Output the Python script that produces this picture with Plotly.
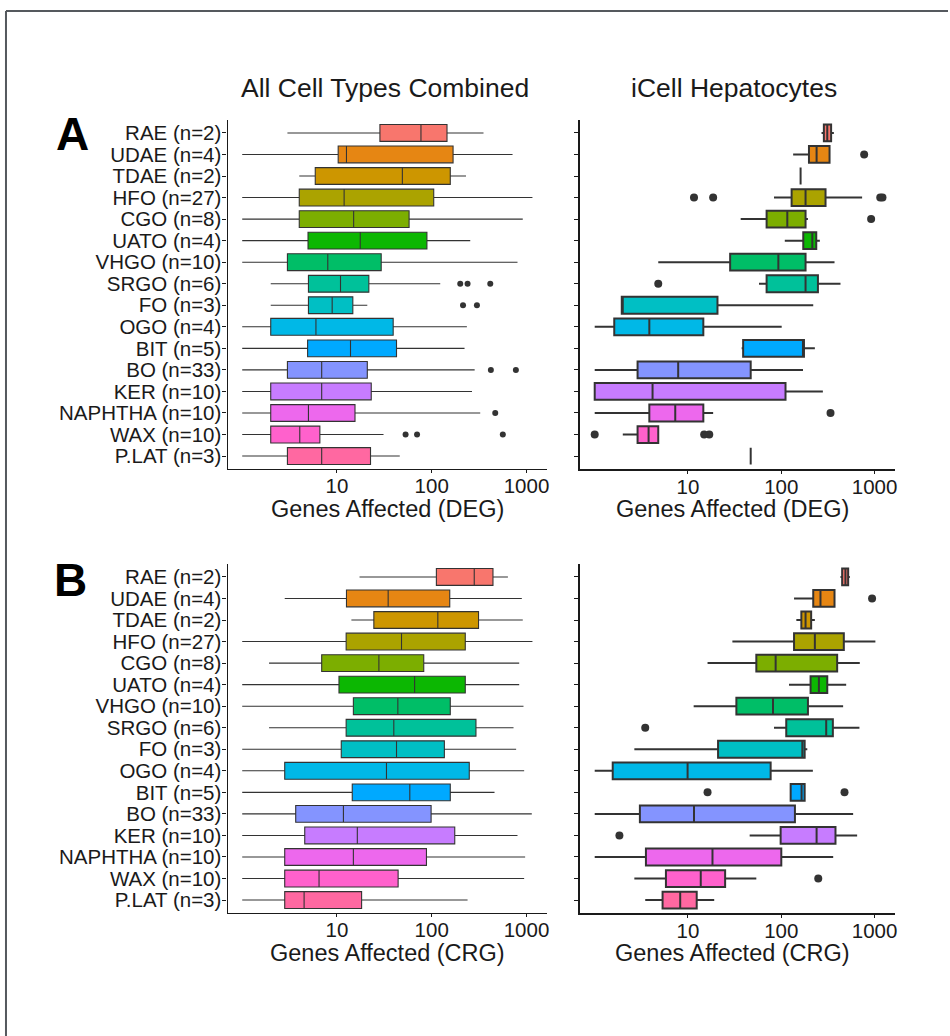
import plotly.graph_objects as go

W, H = 950, 1036

categories = ["RAE (n=2)", "UDAE (n=4)", "TDAE (n=2)", "HFO (n=27)", "CGO (n=8)",
              "UATO (n=4)", "VHGO (n=10)", "SRGO (n=6)", "FO (n=3)", "OGO (n=4)",
              "BIT (n=5)", "BO (n=33)", "KER (n=10)", "NAPHTHA (n=10)", "WAX (n=10)",
              "P.LAT (n=3)"]

colors = ["#F8766D", "#E68613", "#CD9600", "#ABA300", "#7CAE00", "#0CB702",
          "#00BE67", "#00C19A", "#00BFC4", "#00B8E7", "#00A9FF", "#8494FF",
          "#C77CFF", "#ED68ED", "#FF61CC", "#FF68A1"]

tick_vals = [10, 100, 1000]
tick_text = ["10", "100", "1000"]

# ---- DEG, all cell types combined ----
deg_all_lo = [3.0, 1, 4.0, 1, 1, 1, 1, 2.0, 2.0, 1, 1, 1, 1, 1, 1, 1]
deg_all_q1 = [28.4, 10.3, 5.9, 4.0, 4.0, 4.95, 3.0, 5.0, 5.0, 2.0, 4.9, 3.0, 2.0, 2.0, 2.0, 3.0]
deg_all_med = [77, 12.6, 49, 11.9, 15, 17.6, 8.0, 10.9, 8.9, 6.0, 13.9, 6.9, 6.9, 5.0, 4.05, 6.9]
deg_all_q3 = [145, 168, 157, 105, 57.7, 89, 29.3, 21.7, 14.7, 39.2, 42.5, 20.9, 23, 15.5, 6.6, 22.6]
deg_all_hi = [352, 713, 230, 1156, 914, 255, 804, 123, 20.9, 235, 222, 284, 266, 325, 31, 46]
deg_all_out_cat = [7, 7, 7, 8, 8, 11, 11, 13, 14, 14, 14]
deg_all_out_val = [200, 239, 415, 214, 300, 421, 773, 468, 53, 70, 563]

# ---- DEG, iCell hepatocytes ----
deg_hep_lo = [270, 134, 161, 83.5, 36.7, 109, 4.8, 57.7, 1.95, 1.0, 37.6, 1.0, 1.0, 1.0, 2.0, 47]
deg_hep_q1 = [286, 198, 161, 129, 69.6, 172, 28.3, 69.6, 1.95, 1.62, 39, 2.88, 1.0, 3.85, 2.88, 47]
deg_hep_med = [311, 239, 161, 182, 116, 215, 93, 182, 1.95, 3.85, 171, 7.85, 4.17, 7.3, 3.78, 47]
deg_hep_q3 = [342, 329, 161, 298, 182, 237, 182, 247, 20.7, 14.6, 175, 47, 111, 14.6, 4.8, 47]
deg_hep_hi = [366, 329, 161, 735, 193, 259, 372, 431, 220, 101, 229, 171, 279, 18.6, 4.8, 47]
deg_hep_out_cat = [1, 3, 3, 3, 3, 4, 7, 13, 14, 14, 14]
deg_hep_out_val = [773, 11.6, 18.6, 1150, 1215, 918, 4.8, 337, 1.0, 14.9, 16.9]

# ---- CRG, all cell types combined ----
crg_all_lo = [17.3, 2.81, 14.2, 1, 1.92, 1, 1, 1.92, 1, 1, 1, 1, 1, 1, 1, 1]
crg_all_q1 = [112, 12.6, 24.5, 12.5, 6.9, 10.5, 14.9, 12.5, 11.1, 2.81, 14.5, 3.67, 4.57, 2.81, 2.81, 2.81]
crg_all_med = [281, 34.7, 116, 48, 27.7, 66, 43.9, 39.8, 42.5, 33.3, 58.7, 11.7, 16.4, 14.9, 6.47, 4.5]
crg_all_q3 = [443, 155, 312, 226, 82.4, 226, 157, 293, 136, 249, 157, 98.5, 175, 88, 44.2, 18.2]
crg_all_hi = [637, 893, 914, 1156, 838, 838, 930, 730, 778, 945, 460, 1138, 804, 968, 945, 239]

# ---- CRG, iCell hepatocytes ----
crg_hep_lo = [431, 137, 145, 29.9, 16.2, 121, 11.5, 83.5, 2.66, 1.0, 126, 1.0, 45.8, 1.0, 2.66, 3.48]
crg_hep_q1 = [449, 220, 164, 137, 54, 206, 33, 113, 21, 1.56, 126, 3.05, 98.4, 3.54, 5.8, 5.34]
crg_hep_med = [487, 263, 182, 229, 87, 253, 81.5, 303, 168, 9.9, 165, 11.6, 239, 18.3, 13.7, 8.25]
crg_hep_q3 = [521, 372, 209, 468, 397, 311, 193, 357, 178, 76.9, 178, 140, 381, 100, 25, 12.4]
crg_hep_hi = [543, 372, 229, 1020, 694, 496, 460, 688, 190, 218, 178, 589, 650, 360, 54, 19.1]
crg_hep_out_cat = [1, 7, 10, 10, 12, 14]
crg_hep_out_val = [940, 3.48, 16.2, 476, 1.84, 249]

FONT = "Liberation Sans, Arial, sans-serif"
INK = "#1a1a1a"

fig = go.Figure()

# panel geometry in pixels: (left, right, top, bottom); title_x = centre of axis title
panels = [
    dict(name="1", box=(228, 548, 120, 469), rng=[-0.155, 3.215], lw=1.1, ms=6, labels=True,
         stats=(deg_all_lo, deg_all_q1, deg_all_med, deg_all_q3, deg_all_hi),
         out=(deg_all_out_cat, deg_all_out_val), title="Genes Affected (DEG)", title_x=388),
    dict(name="2", box=(581, 897, 120, 469), rng=[-0.16, 3.22], lw=2.0, ms=8, labels=False,
         stats=(deg_hep_lo, deg_hep_q1, deg_hep_med, deg_hep_q3, deg_hep_hi),
         out=(deg_hep_out_cat, deg_hep_out_val), title="Genes Affected (DEG)", title_x=734),
    dict(name="3", box=(228, 548, 564, 913), rng=[-0.155, 3.215], lw=1.1, ms=6, labels=True,
         stats=(crg_all_lo, crg_all_q1, crg_all_med, crg_all_q3, crg_all_hi),
         out=([], []), title="Genes Affected (CRG)", title_x=388),
    dict(name="4", box=(581, 897, 564, 913), rng=[-0.16, 3.22], lw=2.0, ms=8, labels=False,
         stats=(crg_hep_lo, crg_hep_q1, crg_hep_med, crg_hep_q3, crg_hep_hi),
         out=(crg_hep_out_cat, crg_hep_out_val), title="Genes Affected (CRG)", title_x=734),
]

annotations = []

for p in panels:
    n = p["name"]
    xa = "x" if n == "1" else "x" + n
    ya = "y" if n == "1" else "y" + n
    lo, q1, med, q3, hi = p["stats"]
    for i, cat in enumerate(categories):
        fig.add_trace(go.Box(
            orientation="h", y=[cat],
            lowerfence=[lo[i]], q1=[q1[i]], median=[med[i]], q3=[q3[i]], upperfence=[hi[i]],
            fillcolor=colors[i], line=dict(color="#333333", width=p["lw"]),
            width=0.78, whiskerwidth=0, boxpoints=False,
            xaxis=xa, yaxis=ya, showlegend=False, hoverinfo="skip"))
    oc, ov = p["out"]
    if oc:
        fig.add_trace(go.Scatter(
            x=ov, y=[categories[c] for c in oc], mode="markers",
            marker=dict(color="#333333", size=p["ms"]),
            xaxis=xa, yaxis=ya, showlegend=False, hoverinfo="skip"))

    l, r, t, b = p["box"]
    xkey = "xaxis" if n == "1" else "xaxis" + n
    ykey = "yaxis" if n == "1" else "yaxis" + n
    fig.update_layout(**{
        xkey: dict(domain=[l / W, r / W], anchor=ya, type="log", range=p["rng"],
                   tickmode="array", tickvals=tick_vals, ticktext=tick_text,
                   ticks="outside", ticklen=3, tickwidth=1, tickcolor=INK,
                   ticklabelstandoff=-5,
                   showline=True, linecolor=INK, linewidth=p["lw"], showgrid=False,
                   zeroline=False, tickfont=dict(family=FONT, size=20.5, color=INK)),
        ykey: dict(domain=[1 - b / H, 1 - t / H], anchor=xa, type="category",
                   categoryorder="array", categoryarray=categories,
                   tickmode="array", tickvals=categories, ticktext=categories,
                   range=[15.6, -0.6], ticks="outside", ticklen=4, tickwidth=1,
                   tickcolor=INK, showline=True, linecolor=INK, linewidth=p["lw"],
                   ticklabelstandoff=-3,
                   showgrid=False, zeroline=False, showticklabels=p["labels"],
                   tickfont=dict(family=FONT, size=20.5, color=INK)),
    })
    annotations.append(dict(text=p["title"], x=p["title_x"] / W, y=1 - (b + 40) / H,
                            size=23.5, bold=False))

annotations += [
    dict(text="All Cell Types Combined", x=386 / W, y=1 - 88 / H, size=26.5, bold=False),
    dict(text="iCell Hepatocytes", x=736 / W, y=1 - 88 / H, size=26.5, bold=False),
    dict(text="A", x=73 / W, y=1 - 134 / H, size=46, bold=True),
    dict(text="B", x=71 / W, y=1 - 580 / H, size=46, bold=True),
]
fig.update_layout(annotations=[
    dict(text=f"<b>{a['text']}</b>" if a["bold"] else a["text"], x=a["x"], y=a["y"],
         xref="paper", yref="paper", xanchor="center", yanchor="middle", showarrow=False,
         font=dict(family=FONT, size=a["size"], color="#000000" if a["bold"] else INK))
    for a in annotations
])

# outer frame edges
fig.update_layout(shapes=[
    dict(type="line", xref="paper", yref="paper", x0=6 / W, x1=1.0, y0=1 - 11 / H, y1=1 - 11 / H,
         line=dict(color="#55595e", width=2)),
    dict(type="line", xref="paper", yref="paper", x0=6 / W, x1=6 / W, y0=0, y1=1 - 11 / H,
         line=dict(color="#55595e", width=2)),
])

fig.update_layout(width=W, height=H, margin=dict(l=0, r=0, t=0, b=0),
                  paper_bgcolor="white", plot_bgcolor="white", boxmode="overlay")

fig.write_html("out.html")
